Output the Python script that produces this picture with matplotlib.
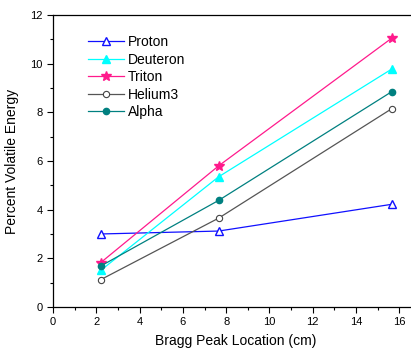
import matplotlib
matplotlib.use("Agg")
import matplotlib.pyplot as plt
from matplotlib.ticker import MultipleLocator

plt.rcParams['font.family'] = ['Liberation Sans', 'DejaVu Sans']

x = [2.2, 7.65, 15.65]
proton = [3.0, 3.12, 4.22]
deuteron = [1.5, 5.35, 9.78]
triton = [1.82, 5.8, 11.05]
helium3 = [1.12, 3.65, 8.15]
alpha = [1.68, 4.38, 8.85]

fig = plt.figure(figsize=(4.11, 3.5), dpi=100)
ax = fig.add_axes([0.129, 0.123, 0.89, 0.834])

lw = 0.9
ax.plot(x, proton, color='#1010ff', lw=lw, marker='^', ms=6, mfc='white', mec='#1010ff', mew=1.0, label='Proton')
ax.plot(x, deuteron, color='#00ffff', lw=lw, marker='^', ms=6, mfc='#00ffff', mec='#00ffff', label='Deuteron')
ax.plot(x, triton, color='#ff1a8c', lw=lw, marker='*', ms=7, mfc='#ff1a8c', mec='#ff1a8c', label='Triton')
ax.plot(x, helium3, color='#555555', lw=lw, marker='o', ms=4.5, mfc='white', mec='#444444', mew=0.8, label='Helium3')
ax.plot(x, alpha, color='#008080', lw=lw, marker='o', ms=4.5, mfc='#008080', mec='#008080', label='Alpha')

ax.set_xlim(0, 16.9)
ax.set_ylim(0, 12)
ax.xaxis.set_major_locator(MultipleLocator(2))
ax.xaxis.set_minor_locator(MultipleLocator(1))
ax.yaxis.set_major_locator(MultipleLocator(2))
ax.yaxis.set_minor_locator(MultipleLocator(1))
ax.tick_params(which='major', direction='out', length=4, width=0.8, labelsize=8, top=False, right=False)
ax.tick_params(which='minor', direction='out', length=2, width=0.8, top=False, right=False)
for s in ax.spines.values():
    s.set_linewidth(0.9)

ax.set_xlabel('Bragg Peak Location (cm)', fontsize=10, labelpad=5)
ax.set_ylabel('Percent Volatile Energy', fontsize=10, labelpad=8)

ax.legend(loc='upper left', bbox_to_anchor=(0.08, 0.95), frameon=False, fontsize=10,
          handlelength=2.6, handletextpad=0.3, labelspacing=0.25, borderaxespad=0)

fig.savefig('out.png', dpi=100)
